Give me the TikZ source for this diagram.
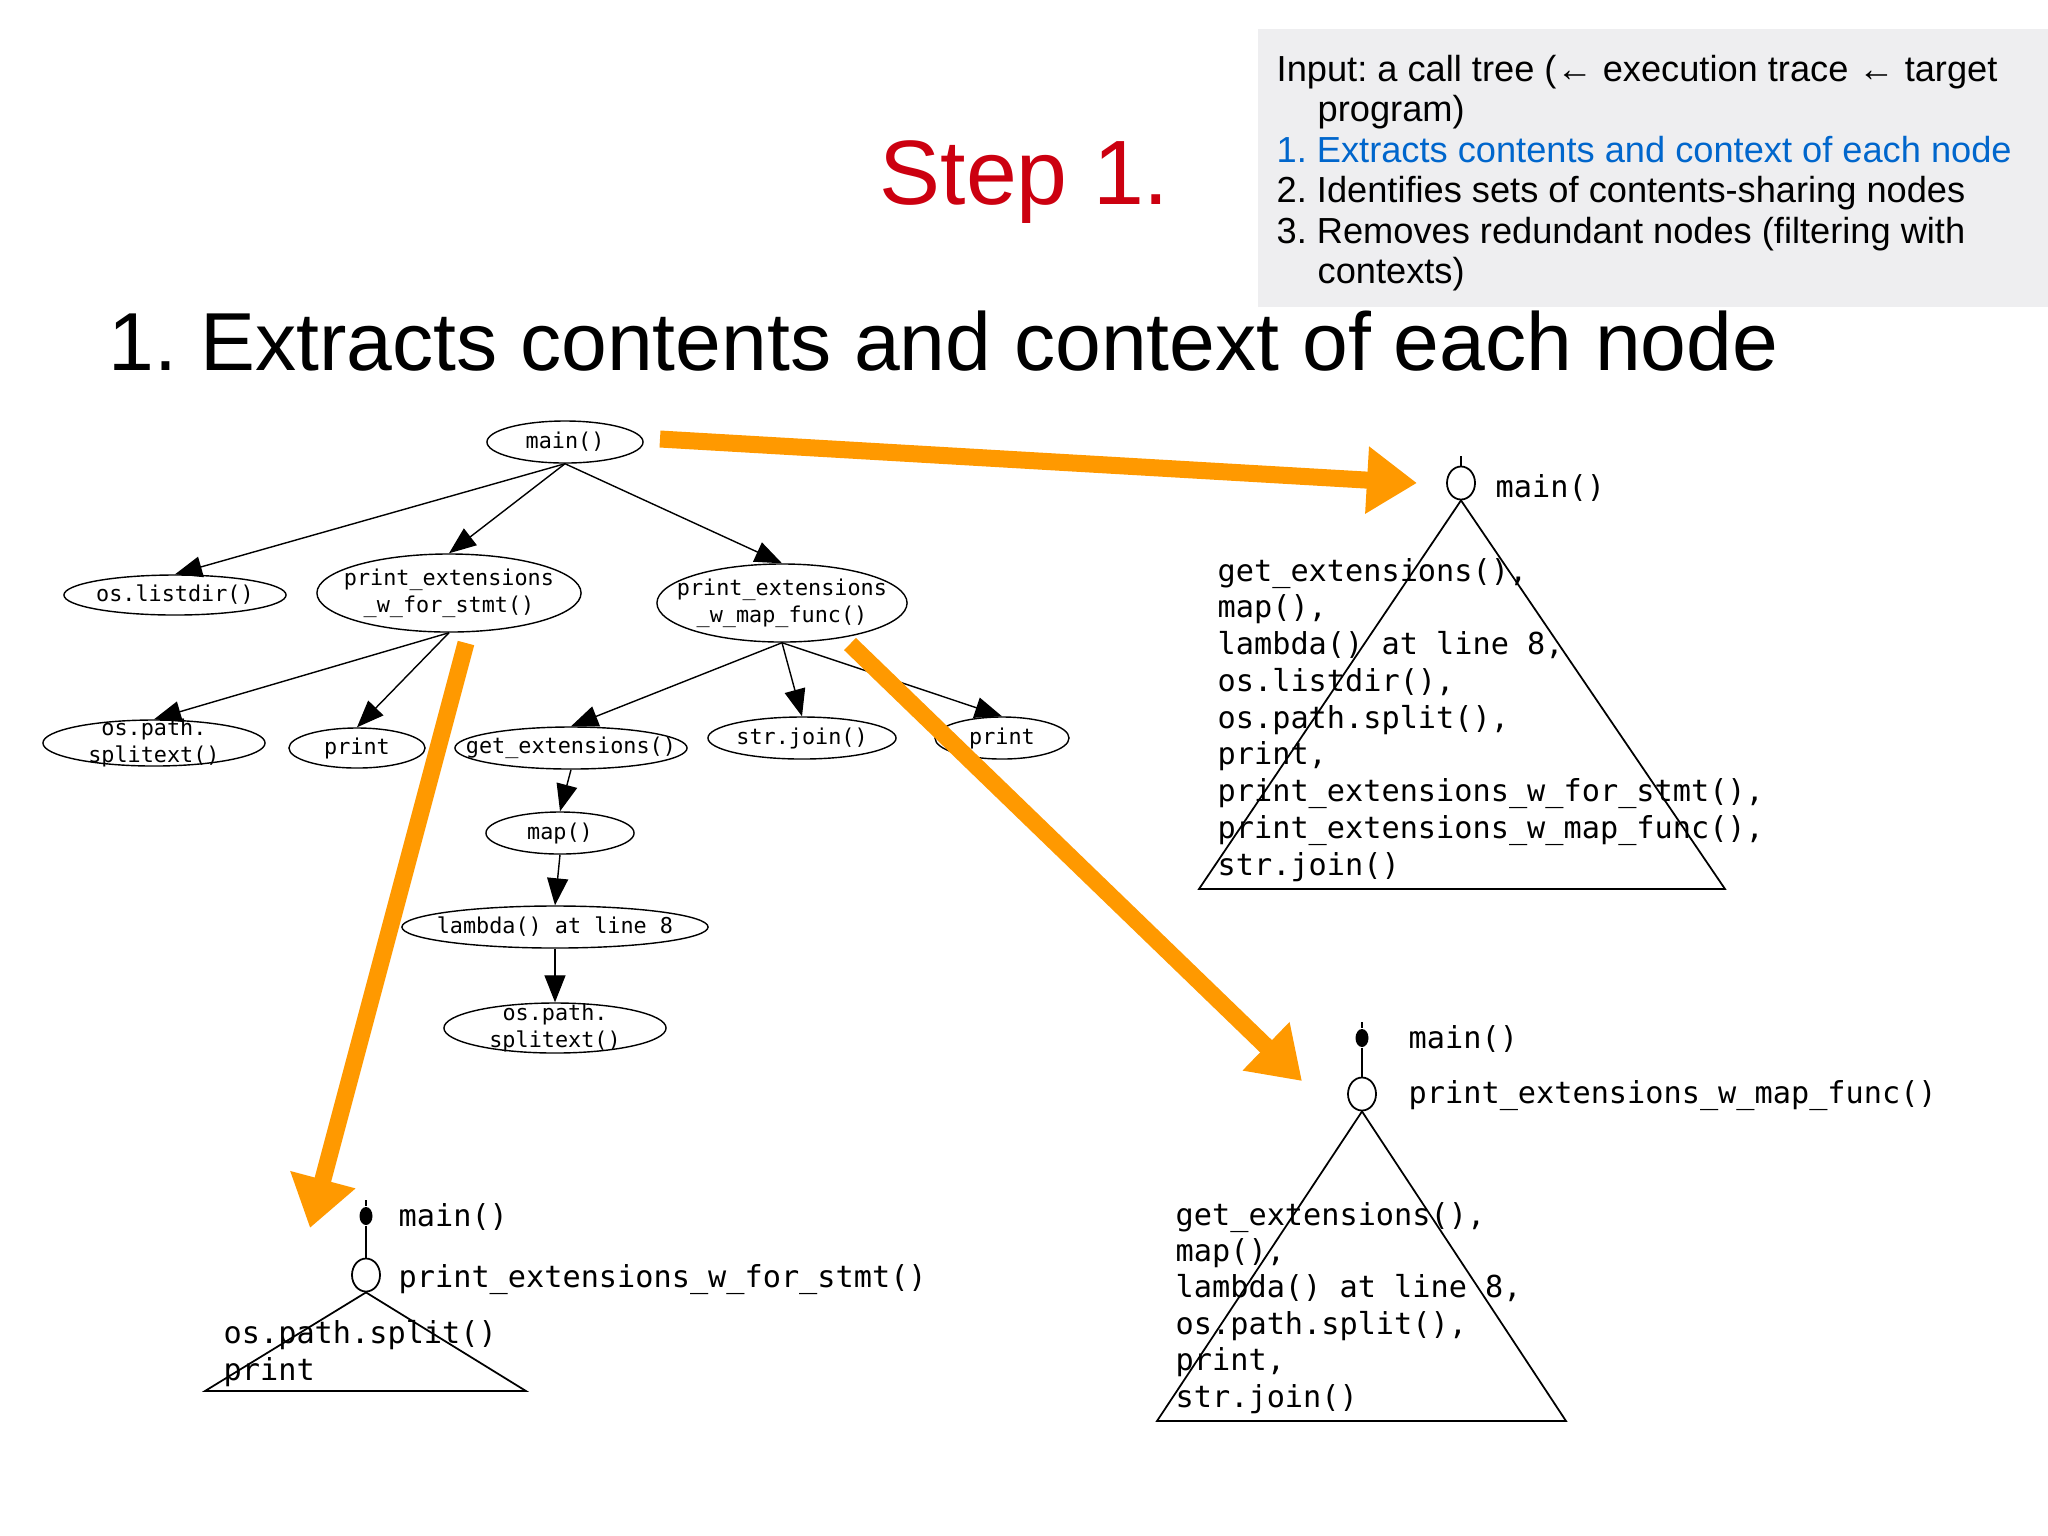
\documentclass[tikz,border=0pt]{standalone}
\usepackage{fontspec}
\setmainfont{Liberation Sans}
\newfontfamily\monofam{DejaVu Sans Mono}
\usetikzlibrary{arrows.meta,shapes.geometric}
\definecolor{orng}{RGB}{255,153,0}
\definecolor{stepred}{RGB}{204,0,16}
\definecolor{boxgray}{RGB}{238,238,240}
\definecolor{listblue}{RGB}{0,102,204}
\newcommand\treefont{\monofam\fontsize{6.2}{7.8}\selectfont}
\newcommand\subfont{\monofam\fontsize{8.6}{10.4}\selectfont}
\frenchspacing
\begin{document}
\frenchspacing
\begin{tikzpicture}[x=0.01cm,y=-0.01cm,
  tnode/.style={draw, ellipse, inner sep=0pt, line width=0.4pt},
  tedge/.style={-{Triangle[length=0.27cm,width=0.21cm]}, line width=0.4pt},
  bigarrow/.style={draw=orng, line width=0.17cm, -{Triangle[length=0.5cm,width=0.64cm,fill=orng]}},
  subtxt/.style={anchor=base west, inner sep=0pt, font=\subfont},
  boxtxt/.style={anchor=base west, inner sep=0pt, font=\fontsize{10.3}{12}\selectfont},
  hollow/.style={draw, ellipse, minimum width=0.28cm, minimum height=0.33cm, inner sep=0pt, line width=0.5pt},
  blackdot/.style={fill=black, ellipse, minimum width=0.13cm, minimum height=0.18cm, inner sep=0pt},
  tri/.style={line width=0.5pt},
  stem/.style={line width=0.8pt}]
\useasboundingbox (0,0) rectangle (2048,1535);
\fill[white] (0,0) rectangle (2048,1535);

% info box
\fill[boxgray] (1258,29) rectangle (2048,307);
\node[boxtxt] (in1) at (1276,81) {Input: a call tree (← execution trace ← target};
\node[boxtxt] (in2) at (1317,121) {program)};
\node[boxtxt, text=listblue] (in3) at (1276,162) {1. Extracts contents and context of each node};
\node[boxtxt] (in4) at (1276,202) {2. Identifies sets of contents-sharing nodes};
\node[boxtxt] (in5) at (1276,243) {3. Removes redundant nodes (filtering with};
\node[boxtxt] (in6) at (1317,283) {contexts)};

% titles
\node[anchor=base west, inner sep=0pt, text=stepred, font=\fontsize{26}{30}\selectfont] (step) at (879,204) {Step 1.};
\node[anchor=base west, inner sep=0pt, font=\fontsize{23.4}{28}\selectfont] (head) at (108,370) {1. Extracts contents and context of each node};

% call tree
\node[tnode, minimum width=1.56cm, minimum height=0.42cm, label={[font=\treefont]center:main()}] (mainn) at (565,442) {};
\node[tnode, minimum width=2.22cm, minimum height=0.40cm, label={[font=\treefont]center:os.listdir()}] (osl) at (175,595) {};
\node[tnode, minimum width=2.64cm, minimum height=0.78cm, label={[font=\treefont, align=center]center:print\_extensions\\\_w\_for\_stmt()}] (pfor) at (449,593) {};
\node[tnode, minimum width=2.50cm, minimum height=0.78cm, label={[font=\treefont, align=center]center:print\_extensions\\\_w\_map\_func()}] (pmap) at (782,603) {};
\node[tnode, minimum width=2.22cm, minimum height=0.46cm, label={[font=\treefont, align=center]center:os.path.\\splitext()}] (ospa) at (154,743) {};
\node[tnode, minimum width=1.36cm, minimum height=0.40cm, label={[font=\treefont]center:print}] (prl) at (357,748) {};
\node[tnode, minimum width=2.32cm, minimum height=0.42cm, label={[font=\treefont]center:get\_extensions()}] (getx) at (571,748) {};
\node[tnode, minimum width=1.88cm, minimum height=0.42cm, label={[font=\treefont]center:str.join()}] (strj) at (802,738) {};
\node[tnode, minimum width=1.34cm, minimum height=0.42cm, label={[font=\treefont]center:print}] (prr) at (1002,738) {};
\node[tnode, minimum width=1.48cm, minimum height=0.42cm, label={[font=\treefont]center:map()}] (mapn) at (560,833) {};
\node[tnode, minimum width=3.06cm, minimum height=0.42cm, label={[font=\treefont]center:lambda() at line 8}] (lam) at (555,927) {};
\node[tnode, minimum width=2.22cm, minimum height=0.50cm, label={[font=\treefont, align=center]center:os.path.\\splitext()}] (ospb) at (555,1028) {};

\draw[tedge] (mainn.south) -- (osl.north);
\draw[tedge] (mainn.south) -- (pfor.north);
\draw[tedge] (mainn.south) -- (pmap.north);
\draw[tedge] (pfor.south) -- (ospa.north);
\draw[tedge] (pfor.south) -- (prl.north);
\draw[tedge] (pmap.south) -- (getx.north);
\draw[tedge] (pmap.south) -- (strj.north);
\draw[tedge] (pmap.south) -- (prr.north);
\draw[tedge] (getx.south) -- (mapn.north);
\draw[tedge] (mapn.south) -- (lam.north);
\draw[tedge] (lam.south) -- (ospb.north);

% top-right subtree
\node[hollow] (trc) at (1461,483) {};
\coordinate (trtick) at (1461,456);
\draw[tri] (trtick) -- (trc.north);
\node[subtxt] (trl) at (1495,497) {main()};
\draw[tri] (trc.south) -- (1199,889) -- (1725,889) -- cycle;
\foreach \t [count=\i] in {{get\_extensions(),},{map(),},{lambda() at line 8,},{os.listdir(),},{os.path.split(),},{print,},{print\_extensions\_w\_for\_stmt(),},{print\_extensions\_w\_map\_func(),},{str.join()}}
  \node[subtxt] (tr\i) at (1217,{581+(\i-1)*36.75}) {\t};

% middle-right subtree
\node[blackdot] (mrd) at (1362,1038) {};
\coordinate (mrtick) at (1362,1022);
\node[hollow] (mrc) at (1362,1094) {};
\draw[tri] (mrtick) -- (mrd);
\draw[stem] (mrd) -- (mrc.north);
\node[subtxt] (mrl1) at (1408,1048) {main()};
\node[subtxt] (mrl2) at (1408,1103) {print\_extensions\_w\_map\_func()};
\draw[tri] (mrc.south) -- (1157,1421) -- (1566,1421) -- cycle;
\foreach \t [count=\i] in {{get\_extensions(),},{map(),},{lambda() at line 8,},{os.path.split(),},{print,},{str.join()}}
  \node[subtxt] (mr\i) at (1175,{1225+(\i-1)*36.4}) {\t};

% bottom-left subtree
\node[blackdot] (bld) at (366,1216) {};
\coordinate (bltick) at (366,1200);
\node[hollow] (blc) at (366,1275) {};
\draw[tri] (bltick) -- (bld);
\draw[stem] (bld) -- (blc.north);
\node[subtxt] (bll1) at (398,1226) {main()};
\node[subtxt] (bll2) at (398,1287) {print\_extensions\_w\_for\_stmt()};
\draw[tri] (blc.south) -- (205,1391) -- (526,1391) -- cycle;
\node[subtxt] (bl1) at (223,1343) {os.path.split()};
\node[subtxt] (bl2) at (223,1380) {print};

% orange arrows
\coordinate (oa1s) at (660,439);
\coordinate (oa1e) at (1417,483);
\coordinate (oa2s) at (466,643);
\coordinate (oa2e) at (310,1228);
\coordinate (oa3s) at (850,644);
\coordinate (oa3e) at (1302,1081);
\draw[bigarrow] (oa1s) -- (oa1e);
\draw[bigarrow] (oa2s) -- (oa2e);
\draw[bigarrow] (oa3s) -- (oa3e);
\end{tikzpicture}
\end{document}
